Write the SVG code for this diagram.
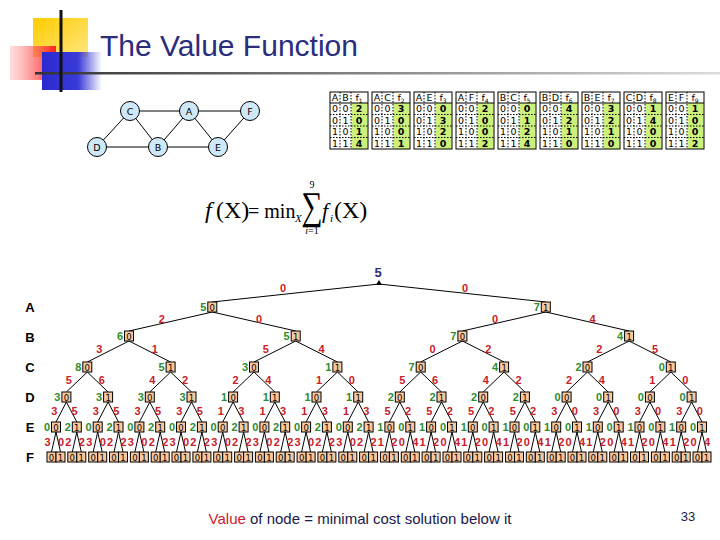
<svg xmlns="http://www.w3.org/2000/svg" xmlns:xlink="http://www.w3.org/1999/xlink" width="720" height="540" viewBox="0 0 720 540">
<style>
.t{font-family:"Liberation Sans",Arial,sans-serif}
.lv{font-family:"Liberation Sans",Arial,sans-serif;font-weight:bold;font-size:13px;text-anchor:middle;fill:#000}
.v{font-family:"Liberation Sans",Arial,sans-serif;font-weight:bold;font-size:11px;text-anchor:end;fill:#2e8b2e}
.el{font-family:"Liberation Sans",Arial,sans-serif;font-weight:bold;font-size:11px;text-anchor:middle;fill:#c8202a;stroke:none}
.gn circle{fill:#cfe8f7;stroke:#000;stroke-width:1}
.gn text{font-family:"DejaVu Sans",sans-serif;font-size:9.5px;text-anchor:middle}
.tb text{font-family:"DejaVu Sans",sans-serif;font-size:9.5px;text-anchor:middle}
.tb .g{font-weight:bold}
.fm{font-family:"Liberation Serif","Times New Roman",serif}
</style>
<defs>
<linearGradient id="gy" x1="0" y1="0" x2="1" y2="1"><stop offset="0" stop-color="#ffcc00"/><stop offset="1" stop-color="#ffe680"/></linearGradient>
<linearGradient id="gr" x1="0" y1="0" x2="1" y2="0"><stop offset="0" stop-color="#ff9090" stop-opacity="0.3"/><stop offset="1" stop-color="#ff2020"/></linearGradient>
<linearGradient id="gb" x1="0" y1="0" x2="1" y2="0"><stop offset="0" stop-color="#2a2ad0"/><stop offset="0.6" stop-color="#3a3ad8"/><stop offset="1" stop-color="#3a3ad8" stop-opacity="0"/></linearGradient>
<linearGradient id="gl" x1="0" y1="0" x2="1" y2="0"><stop offset="0" stop-color="#333"/><stop offset="1" stop-color="#ddd"/></linearGradient>
<g id="k0"><rect x="-4.5" y="-5" width="9" height="10" fill="#f9c89e" stroke="#000" stroke-width="1"/><text y="3.5" font-family="DejaVu Sans,sans-serif" font-size="8.5" text-anchor="middle">0</text></g>
<g id="k1"><rect x="-4.5" y="-5" width="9" height="10" fill="#f9c89e" stroke="#000" stroke-width="1"/><text y="3.5" font-family="DejaVu Sans,sans-serif" font-size="8.5" text-anchor="middle">1</text></g>
</defs>
<rect width="720" height="540" fill="#fff"/>
<!-- decoration -->
<rect x="33" y="18" width="55" height="39" fill="url(#gy)"/>
<rect x="10" y="46" width="46" height="34" fill="url(#gr)"/>
<rect x="42" y="52" width="60" height="38" fill="url(#gb)"/>
<rect x="35" y="72" width="685" height="2.5" fill="url(#gl)"/>
<rect x="59.5" y="10" width="3" height="82" fill="#111"/>
<text class="t" x="100" y="56" font-size="30" fill="#2b2d7c">The Value Function</text>
<!-- graph -->
<g class="gn">
<g fill="none" stroke="#000" stroke-width="1">
<line x1="130" y1="111" x2="189" y2="111"/><line x1="189" y1="111" x2="250" y2="111"/>
<line x1="97" y1="147" x2="158" y2="147"/><line x1="158" y1="147" x2="218" y2="147"/>
<line x1="130" y1="111" x2="97" y2="147"/><line x1="130" y1="111" x2="158" y2="147"/>
<line x1="189" y1="111" x2="158" y2="147"/><line x1="189" y1="111" x2="218" y2="147"/>
<line x1="250" y1="111" x2="218" y2="147"/>
</g>
<g id="gC"><circle cx="130" cy="111" r="9.5"/><text x="130" y="114.5">C</text></g>
<g id="gA"><circle cx="189" cy="111" r="9.5"/><text x="189" y="114.5">A</text></g>
<g id="gF"><circle cx="250" cy="111" r="9.5"/><text x="250" y="114.5">F</text></g>
<g id="gD"><circle cx="97" cy="147" r="9.5"/><text x="97" y="150.5">D</text></g>
<g id="gB"><circle cx="158" cy="147" r="9.5"/><text x="158" y="150.5">B</text></g>
<g id="gE"><circle cx="218" cy="147" r="9.5"/><text x="218" y="150.5">E</text></g>
</g>
<!-- tables -->
<g class="tb">
<g id="tab1" transform="translate(330,92)">
<rect x="21.5" y="11" width="16" height="46" fill="#ccf07c"/><rect width="38" height="57" fill="none" stroke="#000"/>
<path d="M0 11H38" stroke="#000"/><path d="M0 22.5H38M0 34H38M0 45.5H38M10 0V57M21 0V57" stroke="#000" stroke-dasharray="1.5,1.5"/>
<text x="5" y="9">A</text><text x="15.5" y="9">B</text><text x="29" y="9">f<tspan font-size="6" dy="2">1</tspan></text>
<text x="5" y="20">0</text><text x="15.5" y="20">0</text><text class="g" x="29" y="20">2</text>
<text x="5" y="31.5">0</text><text x="15.5" y="31.5">1</text><text class="g" x="29" y="31.5">0</text>
<text x="5" y="43">1</text><text x="15.5" y="43">0</text><text class="g" x="29" y="43">1</text>
<text x="5" y="54.5">1</text><text x="15.5" y="54.5">1</text><text class="g" x="29" y="54.5">4</text>
</g>
<g id="tab2" transform="translate(372,92)">
<rect x="21.5" y="11" width="16" height="46" fill="#ccf07c"/><rect width="38" height="57" fill="none" stroke="#000"/>
<path d="M0 11H38" stroke="#000"/><path d="M0 22.5H38M0 34H38M0 45.5H38M10 0V57M21 0V57" stroke="#000" stroke-dasharray="1.5,1.5"/>
<text x="5" y="9">A</text><text x="15.5" y="9">C</text><text x="29" y="9">f<tspan font-size="6" dy="2">2</tspan></text>
<text x="5" y="20">0</text><text x="15.5" y="20">0</text><text class="g" x="29" y="20">3</text>
<text x="5" y="31.5">0</text><text x="15.5" y="31.5">1</text><text class="g" x="29" y="31.5">0</text>
<text x="5" y="43">1</text><text x="15.5" y="43">0</text><text class="g" x="29" y="43">0</text>
<text x="5" y="54.5">1</text><text x="15.5" y="54.5">1</text><text class="g" x="29" y="54.5">1</text>
</g>
<g id="tab3" transform="translate(414,92)">
<rect x="21.5" y="11" width="16" height="46" fill="#ccf07c"/><rect width="38" height="57" fill="none" stroke="#000"/>
<path d="M0 11H38" stroke="#000"/><path d="M0 22.5H38M0 34H38M0 45.5H38M10 0V57M21 0V57" stroke="#000" stroke-dasharray="1.5,1.5"/>
<text x="5" y="9">A</text><text x="15.5" y="9">E</text><text x="29" y="9">f<tspan font-size="6" dy="2">3</tspan></text>
<text x="5" y="20">0</text><text x="15.5" y="20">0</text><text class="g" x="29" y="20">0</text>
<text x="5" y="31.5">0</text><text x="15.5" y="31.5">1</text><text class="g" x="29" y="31.5">3</text>
<text x="5" y="43">1</text><text x="15.5" y="43">0</text><text class="g" x="29" y="43">2</text>
<text x="5" y="54.5">1</text><text x="15.5" y="54.5">1</text><text class="g" x="29" y="54.5">0</text>
</g>
<g id="tab4" transform="translate(456,92)">
<rect x="21.5" y="11" width="16" height="46" fill="#ccf07c"/><rect width="38" height="57" fill="none" stroke="#000"/>
<path d="M0 11H38" stroke="#000"/><path d="M0 22.5H38M0 34H38M0 45.5H38M10 0V57M21 0V57" stroke="#000" stroke-dasharray="1.5,1.5"/>
<text x="5" y="9">A</text><text x="15.5" y="9">F</text><text x="29" y="9">f<tspan font-size="6" dy="2">4</tspan></text>
<text x="5" y="20">0</text><text x="15.5" y="20">0</text><text class="g" x="29" y="20">2</text>
<text x="5" y="31.5">0</text><text x="15.5" y="31.5">1</text><text class="g" x="29" y="31.5">0</text>
<text x="5" y="43">1</text><text x="15.5" y="43">0</text><text class="g" x="29" y="43">0</text>
<text x="5" y="54.5">1</text><text x="15.5" y="54.5">1</text><text class="g" x="29" y="54.5">2</text>
</g>
<g id="tab5" transform="translate(498,92)">
<rect x="21.5" y="11" width="16" height="46" fill="#ccf07c"/><rect width="38" height="57" fill="none" stroke="#000"/>
<path d="M0 11H38" stroke="#000"/><path d="M0 22.5H38M0 34H38M0 45.5H38M10 0V57M21 0V57" stroke="#000" stroke-dasharray="1.5,1.5"/>
<text x="5" y="9">B</text><text x="15.5" y="9">C</text><text x="29" y="9">f<tspan font-size="6" dy="2">5</tspan></text>
<text x="5" y="20">0</text><text x="15.5" y="20">0</text><text class="g" x="29" y="20">0</text>
<text x="5" y="31.5">0</text><text x="15.5" y="31.5">1</text><text class="g" x="29" y="31.5">1</text>
<text x="5" y="43">1</text><text x="15.5" y="43">0</text><text class="g" x="29" y="43">2</text>
<text x="5" y="54.5">1</text><text x="15.5" y="54.5">1</text><text class="g" x="29" y="54.5">4</text>
</g>
<g id="tab6" transform="translate(540,92)">
<rect x="21.5" y="11" width="16" height="46" fill="#ccf07c"/><rect width="38" height="57" fill="none" stroke="#000"/>
<path d="M0 11H38" stroke="#000"/><path d="M0 22.5H38M0 34H38M0 45.5H38M10 0V57M21 0V57" stroke="#000" stroke-dasharray="1.5,1.5"/>
<text x="5" y="9">B</text><text x="15.5" y="9">D</text><text x="29" y="9">f<tspan font-size="6" dy="2">6</tspan></text>
<text x="5" y="20">0</text><text x="15.5" y="20">0</text><text class="g" x="29" y="20">4</text>
<text x="5" y="31.5">0</text><text x="15.5" y="31.5">1</text><text class="g" x="29" y="31.5">2</text>
<text x="5" y="43">1</text><text x="15.5" y="43">0</text><text class="g" x="29" y="43">1</text>
<text x="5" y="54.5">1</text><text x="15.5" y="54.5">1</text><text class="g" x="29" y="54.5">0</text>
</g>
<g id="tab7" transform="translate(582,92)">
<rect x="21.5" y="11" width="16" height="46" fill="#ccf07c"/><rect width="38" height="57" fill="none" stroke="#000"/>
<path d="M0 11H38" stroke="#000"/><path d="M0 22.5H38M0 34H38M0 45.5H38M10 0V57M21 0V57" stroke="#000" stroke-dasharray="1.5,1.5"/>
<text x="5" y="9">B</text><text x="15.5" y="9">E</text><text x="29" y="9">f<tspan font-size="6" dy="2">7</tspan></text>
<text x="5" y="20">0</text><text x="15.5" y="20">0</text><text class="g" x="29" y="20">3</text>
<text x="5" y="31.5">0</text><text x="15.5" y="31.5">1</text><text class="g" x="29" y="31.5">2</text>
<text x="5" y="43">1</text><text x="15.5" y="43">0</text><text class="g" x="29" y="43">1</text>
<text x="5" y="54.5">1</text><text x="15.5" y="54.5">1</text><text class="g" x="29" y="54.5">0</text>
</g>
<g id="tab8" transform="translate(624,92)">
<rect x="21.5" y="11" width="16" height="46" fill="#ccf07c"/><rect width="38" height="57" fill="none" stroke="#000"/>
<path d="M0 11H38" stroke="#000"/><path d="M0 22.5H38M0 34H38M0 45.5H38M10 0V57M21 0V57" stroke="#000" stroke-dasharray="1.5,1.5"/>
<text x="5" y="9">C</text><text x="15.5" y="9">D</text><text x="29" y="9">f<tspan font-size="6" dy="2">8</tspan></text>
<text x="5" y="20">0</text><text x="15.5" y="20">0</text><text class="g" x="29" y="20">1</text>
<text x="5" y="31.5">0</text><text x="15.5" y="31.5">1</text><text class="g" x="29" y="31.5">4</text>
<text x="5" y="43">1</text><text x="15.5" y="43">0</text><text class="g" x="29" y="43">0</text>
<text x="5" y="54.5">1</text><text x="15.5" y="54.5">1</text><text class="g" x="29" y="54.5">0</text>
</g>
<g id="tab9" transform="translate(666,92)">
<rect x="21.5" y="11" width="16" height="46" fill="#ccf07c"/><rect width="38" height="57" fill="none" stroke="#000"/>
<path d="M0 11H38" stroke="#000"/><path d="M0 22.5H38M0 34H38M0 45.5H38M10 0V57M21 0V57" stroke="#000" stroke-dasharray="1.5,1.5"/>
<text x="5" y="9">E</text><text x="15.5" y="9">F</text><text x="29" y="9">f<tspan font-size="6" dy="2">9</tspan></text>
<text x="5" y="20">0</text><text x="15.5" y="20">0</text><text class="g" x="29" y="20">1</text>
<text x="5" y="31.5">0</text><text x="15.5" y="31.5">1</text><text class="g" x="29" y="31.5">0</text>
<text x="5" y="43">1</text><text x="15.5" y="43">0</text><text class="g" x="29" y="43">0</text>
<text x="5" y="54.5">1</text><text x="15.5" y="54.5">1</text><text class="g" x="29" y="54.5">2</text>
</g>
</g>
<!-- formula -->
<g class="fm" fill="#000">
<text x="205" y="218" font-size="24" font-style="italic">f</text>
<text x="216" y="218" font-size="24">(X)</text>
<text x="248" y="218" font-size="20">= min</text>
<text x="295" y="222" font-size="11" font-style="italic">X</text>
<text transform="translate(312,219) scale(1.15,1.5)" font-size="26" text-anchor="middle">∑</text>
<text x="312" y="188" font-size="10" text-anchor="middle">9</text>
<text x="312" y="234" font-size="10" text-anchor="middle"><tspan font-style="italic">i</tspan>=1</text>
<text x="322" y="218" font-size="22" font-style="italic">f</text>
<text x="330" y="222" font-size="11" font-style="italic">i</text>
<text x="334" y="218" font-size="24">(X)</text>
</g>
<!-- level labels -->
<text class="lv" x="30" y="312">A</text>
<text class="lv" x="30" y="342">B</text>
<text class="lv" x="30" y="372">C</text>
<text class="lv" x="30" y="402">D</text>
<text class="lv" x="30" y="432">E</text>
<text class="lv" x="30" y="462">F</text>
<!-- connectors -->
<g id="connectors" fill="none" stroke="#000" stroke-width="1">
<path d="M379 284L212.3 302M379 284L545.8 302"/>
<path d="M212.3 312L129 331M212.3 312L295.7 331M545.8 312L462.4 331M545.8 312L629.1 331"/>
<path d="M129 341L87.3 362M129 341L170.6 362M295.7 341L254 362M295.7 341L337.4 362M462.4 341L420.7 362M462.4 341L504.1 362M629.1 341L587.5 362M629.1 341L670.8 362"/>
<path d="M87.3 372L66.4 392M87.3 372L108.1 392M170.6 372L149.8 392M170.6 372L191.5 392M254 372L233.1 392M254 372L274.8 392M337.4 372L316.5 392M337.4 372L358.2 392M420.7 372L399.8 392M420.7 372L441.5 392M504.1 372L483.2 392M504.1 372L524.9 392M587.5 372L566.6 392M587.5 372L608.2 392M670.8 372L649.9 392M670.8 372L691.6 392"/>
<path d="M66.4 402L56 422M66.4 402L76.8 422M108.1 402L97.7 422M108.1 402L118.5 422M149.8 402L139.4 422M149.8 402L160.2 422M191.5 402L181 422M191.5 402L201.9 422M233.1 402L222.7 422M233.1 402L243.6 422M274.8 402L264.4 422M274.8 402L285.2 422M316.5 402L306.1 422M316.5 402L326.9 422M358.2 402L347.8 422M358.2 402L368.6 422M399.8 402L389.4 422M399.8 402L410.3 422M441.5 402L431.1 422M441.5 402L452 422M483.2 402L472.8 422M483.2 402L493.6 422M524.9 402L514.5 422M524.9 402L535.3 422M566.6 402L556.2 422M566.6 402L577 422M608.2 402L597.8 422M608.2 402L618.7 422M649.9 402L639.5 422M649.9 402L660.4 422M691.6 402L681.2 422M691.6 402L702 422"/>
<path d="M56 432L51.5 452M56 432L60.5 452M76.8 432L72.3 452M76.8 432L81.3 452M97.7 432L93.2 452M97.7 432L102.2 452M118.5 432L114 452M118.5 432L123 452M139.4 432L134.9 452M139.4 432L143.9 452M160.2 432L155.7 452M160.2 432L164.7 452M181 432L176.5 452M181 432L185.5 452M201.9 432L197.4 452M201.9 432L206.4 452M222.7 432L218.2 452M222.7 432L227.2 452M243.6 432L239.1 452M243.6 432L248.1 452M264.4 432L259.9 452M264.4 432L268.9 452M285.2 432L280.7 452M285.2 432L289.7 452M306.1 432L301.6 452M306.1 432L310.6 452M326.9 432L322.4 452M326.9 432L331.4 452M347.8 432L343.3 452M347.8 432L352.3 452M368.6 432L364.1 452M368.6 432L373.1 452M389.4 432L384.9 452M389.4 432L393.9 452M410.3 432L405.8 452M410.3 432L414.8 452M431.1 432L426.6 452M431.1 432L435.6 452M452 432L447.5 452M452 432L456.5 452M472.8 432L468.3 452M472.8 432L477.3 452M493.6 432L489.1 452M493.6 432L498.1 452M514.5 432L510 452M514.5 432L519 452M535.3 432L530.8 452M535.3 432L539.8 452M556.2 432L551.7 452M556.2 432L560.7 452M577 432L572.5 452M577 432L581.5 452M597.8 432L593.3 452M597.8 432L602.3 452M618.7 432L614.2 452M618.7 432L623.2 452M639.5 432L635 452M639.5 432L644 452M660.4 432L655.9 452M660.4 432L664.9 452M681.2 432L676.7 452M681.2 432L685.7 452M702 432L697.5 452M702 432L706.5 452"/>
</g>
<g id="edge-labels">
<text class="el" x="283 465" y="292">00</text>
<text class="el" x="161.7 259 495.1 592.5" y="323">2004</text>
<text class="el" x="99.2 154.8 265.9 321.6 432.6 488.3 599.3 655" y="353">31540225</text>
<text class="el" x="68.9 101.7 152.2 185 235.6 268.4 319 351.8 402.3 435.1 485.7 518.5 569 601.9 652.4 685.2" y="384">5642241056422410</text>
<text class="el" x="54.2 74.6 95.9 116.3 137.6 158 179.3 199.7 220.9 241.3 262.6 283 304.3 324.7 346 366.4 387.6 408 429.3 449.7 471 491.4 512.7 533.1 554.4 574.8 596 616.4 637.7 658.1 679.4 699.8" y="415">35353535131313135252525230303030</text>
<text class="el" x="47.5 61 68.3 81.8 89.2 102.7 110 123.5 130.9 144.4 151.7 165.2 172.5 186 193.4 206.9 214.2 227.7 235.1 248.6 255.9 269.4 276.7 290.2 297.6 311.1 318.4 331.9 339.3 352.8 360.1 373.6 380.9 394.4 401.8 415.3 422.6 436.1 443.5 457 464.3 477.8 485.1 498.6 506 519.5 526.8 540.3 547.7 561.2 568.5 582 589.3 602.8 610.2 623.7 631 644.5 651.9 665.4 672.7 686.2 693.5 707" y="446">3022302230223022302230223022302212041204120412041204120412041204</text>
</g>
<!-- nodes -->
<g id="root"><path d="M379 280L382 285H376Z" fill="#000"/><text x="378" y="277" font-family="Liberation Sans,Arial,sans-serif" font-weight="bold" font-size="13" text-anchor="middle" fill="#2b2d7c">5</text></g>
<g id="A0"><use xlink:href="#k0" x="212.3" y="307"/><text class="v" x="206.3" y="311">5</text></g>
<g id="A1"><use xlink:href="#k1" x="545.8" y="307"/><text class="v" x="539.8" y="311">7</text></g>
<g id="B0"><use xlink:href="#k0" x="129" y="336"/><text class="v" x="123" y="340">6</text></g>
<g id="B1"><use xlink:href="#k1" x="295.7" y="336"/><text class="v" x="289.7" y="340">5</text></g>
<g id="B2"><use xlink:href="#k0" x="462.4" y="336"/><text class="v" x="456.4" y="340">7</text></g>
<g id="B3"><use xlink:href="#k1" x="629.1" y="336"/><text class="v" x="623.1" y="340">4</text></g>
<g id="C0"><use xlink:href="#k0" x="87.3" y="367"/><text class="v" x="81.3" y="371">8</text></g>
<g id="C1"><use xlink:href="#k1" x="170.6" y="367"/><text class="v" x="164.6" y="371">5</text></g>
<g id="C2"><use xlink:href="#k0" x="254" y="367"/><text class="v" x="248" y="371">3</text></g>
<g id="C3"><use xlink:href="#k1" x="337.4" y="367"/><text class="v" x="331.4" y="371">1</text></g>
<g id="C4"><use xlink:href="#k0" x="420.7" y="367"/><text class="v" x="414.7" y="371">7</text></g>
<g id="C5"><use xlink:href="#k1" x="504.1" y="367"/><text class="v" x="498.1" y="371">4</text></g>
<g id="C6"><use xlink:href="#k0" x="587.5" y="367"/><text class="v" x="581.5" y="371">2</text></g>
<g id="C7"><use xlink:href="#k1" x="670.8" y="367"/><text class="v" x="664.8" y="371">0</text></g>
<g id="D0"><use xlink:href="#k0" x="66.4" y="397"/><text class="v" x="60.4" y="401">3</text></g>
<g id="D1"><use xlink:href="#k1" x="108.1" y="397"/><text class="v" x="102.1" y="401">3</text></g>
<g id="D2"><use xlink:href="#k0" x="149.8" y="397"/><text class="v" x="143.8" y="401">3</text></g>
<g id="D3"><use xlink:href="#k1" x="191.5" y="397"/><text class="v" x="185.5" y="401">3</text></g>
<g id="D4"><use xlink:href="#k0" x="233.1" y="397"/><text class="v" x="227.1" y="401">1</text></g>
<g id="D5"><use xlink:href="#k1" x="274.8" y="397"/><text class="v" x="268.8" y="401">1</text></g>
<g id="D6"><use xlink:href="#k0" x="316.5" y="397"/><text class="v" x="310.5" y="401">1</text></g>
<g id="D7"><use xlink:href="#k1" x="358.2" y="397"/><text class="v" x="352.2" y="401">1</text></g>
<g id="D8"><use xlink:href="#k0" x="399.8" y="397"/><text class="v" x="393.8" y="401">2</text></g>
<g id="D9"><use xlink:href="#k1" x="441.5" y="397"/><text class="v" x="435.5" y="401">2</text></g>
<g id="D10"><use xlink:href="#k0" x="483.2" y="397"/><text class="v" x="477.2" y="401">2</text></g>
<g id="D11"><use xlink:href="#k1" x="524.9" y="397"/><text class="v" x="518.9" y="401">2</text></g>
<g id="D12"><use xlink:href="#k0" x="566.6" y="397"/><text class="v" x="560.6" y="401">0</text></g>
<g id="D13"><use xlink:href="#k1" x="608.2" y="397"/><text class="v" x="602.2" y="401">0</text></g>
<g id="D14"><use xlink:href="#k0" x="649.9" y="397"/><text class="v" x="643.9" y="401">0</text></g>
<g id="D15"><use xlink:href="#k1" x="691.6" y="397"/><text class="v" x="685.6" y="401">0</text></g>
<g id="E0"><use xlink:href="#k0" x="56" y="427"/><text class="v" x="50" y="431">0</text></g>
<g id="E1"><use xlink:href="#k1" x="76.8" y="427"/><text class="v" x="70.8" y="431">2</text></g>
<g id="E2"><use xlink:href="#k0" x="97.7" y="427"/><text class="v" x="91.7" y="431">0</text></g>
<g id="E3"><use xlink:href="#k1" x="118.5" y="427"/><text class="v" x="112.5" y="431">2</text></g>
<g id="E4"><use xlink:href="#k0" x="139.4" y="427"/><text class="v" x="133.4" y="431">0</text></g>
<g id="E5"><use xlink:href="#k1" x="160.2" y="427"/><text class="v" x="154.2" y="431">2</text></g>
<g id="E6"><use xlink:href="#k0" x="181" y="427"/><text class="v" x="175" y="431">0</text></g>
<g id="E7"><use xlink:href="#k1" x="201.9" y="427"/><text class="v" x="195.9" y="431">2</text></g>
<g id="E8"><use xlink:href="#k0" x="222.7" y="427"/><text class="v" x="216.7" y="431">0</text></g>
<g id="E9"><use xlink:href="#k1" x="243.6" y="427"/><text class="v" x="237.6" y="431">2</text></g>
<g id="E10"><use xlink:href="#k0" x="264.4" y="427"/><text class="v" x="258.4" y="431">0</text></g>
<g id="E11"><use xlink:href="#k1" x="285.2" y="427"/><text class="v" x="279.2" y="431">2</text></g>
<g id="E12"><use xlink:href="#k0" x="306.1" y="427"/><text class="v" x="300.1" y="431">0</text></g>
<g id="E13"><use xlink:href="#k1" x="326.9" y="427"/><text class="v" x="320.9" y="431">2</text></g>
<g id="E14"><use xlink:href="#k0" x="347.8" y="427"/><text class="v" x="341.8" y="431">0</text></g>
<g id="E15"><use xlink:href="#k1" x="368.6" y="427"/><text class="v" x="362.6" y="431">2</text></g>
<g id="E16"><use xlink:href="#k0" x="389.4" y="427"/><text class="v" x="383.4" y="431">1</text></g>
<g id="E17"><use xlink:href="#k1" x="410.3" y="427"/><text class="v" x="404.3" y="431">0</text></g>
<g id="E18"><use xlink:href="#k0" x="431.1" y="427"/><text class="v" x="425.1" y="431">1</text></g>
<g id="E19"><use xlink:href="#k1" x="452" y="427"/><text class="v" x="446" y="431">0</text></g>
<g id="E20"><use xlink:href="#k0" x="472.8" y="427"/><text class="v" x="466.8" y="431">1</text></g>
<g id="E21"><use xlink:href="#k1" x="493.6" y="427"/><text class="v" x="487.6" y="431">0</text></g>
<g id="E22"><use xlink:href="#k0" x="514.5" y="427"/><text class="v" x="508.5" y="431">1</text></g>
<g id="E23"><use xlink:href="#k1" x="535.3" y="427"/><text class="v" x="529.3" y="431">0</text></g>
<g id="E24"><use xlink:href="#k0" x="556.2" y="427"/><text class="v" x="550.2" y="431">1</text></g>
<g id="E25"><use xlink:href="#k1" x="577" y="427"/><text class="v" x="571" y="431">0</text></g>
<g id="E26"><use xlink:href="#k0" x="597.8" y="427"/><text class="v" x="591.8" y="431">1</text></g>
<g id="E27"><use xlink:href="#k1" x="618.7" y="427"/><text class="v" x="612.7" y="431">0</text></g>
<g id="E28"><use xlink:href="#k0" x="639.5" y="427"/><text class="v" x="633.5" y="431">1</text></g>
<g id="E29"><use xlink:href="#k1" x="660.4" y="427"/><text class="v" x="654.4" y="431">0</text></g>
<g id="E30"><use xlink:href="#k0" x="681.2" y="427"/><text class="v" x="675.2" y="431">1</text></g>
<g id="E31"><use xlink:href="#k1" x="702" y="427"/><text class="v" x="696" y="431">0</text></g>
<g id="F-leaves">
<g id="F0"><use xlink:href="#k0" x="51.5" y="457"/></g><g id="F1"><use xlink:href="#k1" x="60.5" y="457"/></g>
<g id="F2"><use xlink:href="#k0" x="72.3" y="457"/></g><g id="F3"><use xlink:href="#k1" x="81.3" y="457"/></g>
<g id="F4"><use xlink:href="#k0" x="93.2" y="457"/></g><g id="F5"><use xlink:href="#k1" x="102.2" y="457"/></g>
<g id="F6"><use xlink:href="#k0" x="114" y="457"/></g><g id="F7"><use xlink:href="#k1" x="123" y="457"/></g>
<g id="F8"><use xlink:href="#k0" x="134.9" y="457"/></g><g id="F9"><use xlink:href="#k1" x="143.9" y="457"/></g>
<g id="F10"><use xlink:href="#k0" x="155.7" y="457"/></g><g id="F11"><use xlink:href="#k1" x="164.7" y="457"/></g>
<g id="F12"><use xlink:href="#k0" x="176.5" y="457"/></g><g id="F13"><use xlink:href="#k1" x="185.5" y="457"/></g>
<g id="F14"><use xlink:href="#k0" x="197.4" y="457"/></g><g id="F15"><use xlink:href="#k1" x="206.4" y="457"/></g>
<g id="F16"><use xlink:href="#k0" x="218.2" y="457"/></g><g id="F17"><use xlink:href="#k1" x="227.2" y="457"/></g>
<g id="F18"><use xlink:href="#k0" x="239.1" y="457"/></g><g id="F19"><use xlink:href="#k1" x="248.1" y="457"/></g>
<g id="F20"><use xlink:href="#k0" x="259.9" y="457"/></g><g id="F21"><use xlink:href="#k1" x="268.9" y="457"/></g>
<g id="F22"><use xlink:href="#k0" x="280.7" y="457"/></g><g id="F23"><use xlink:href="#k1" x="289.7" y="457"/></g>
<g id="F24"><use xlink:href="#k0" x="301.6" y="457"/></g><g id="F25"><use xlink:href="#k1" x="310.6" y="457"/></g>
<g id="F26"><use xlink:href="#k0" x="322.4" y="457"/></g><g id="F27"><use xlink:href="#k1" x="331.4" y="457"/></g>
<g id="F28"><use xlink:href="#k0" x="343.3" y="457"/></g><g id="F29"><use xlink:href="#k1" x="352.3" y="457"/></g>
<g id="F30"><use xlink:href="#k0" x="364.1" y="457"/></g><g id="F31"><use xlink:href="#k1" x="373.1" y="457"/></g>
<g id="F32"><use xlink:href="#k0" x="384.9" y="457"/></g><g id="F33"><use xlink:href="#k1" x="393.9" y="457"/></g>
<g id="F34"><use xlink:href="#k0" x="405.8" y="457"/></g><g id="F35"><use xlink:href="#k1" x="414.8" y="457"/></g>
<g id="F36"><use xlink:href="#k0" x="426.6" y="457"/></g><g id="F37"><use xlink:href="#k1" x="435.6" y="457"/></g>
<g id="F38"><use xlink:href="#k0" x="447.5" y="457"/></g><g id="F39"><use xlink:href="#k1" x="456.5" y="457"/></g>
<g id="F40"><use xlink:href="#k0" x="468.3" y="457"/></g><g id="F41"><use xlink:href="#k1" x="477.3" y="457"/></g>
<g id="F42"><use xlink:href="#k0" x="489.1" y="457"/></g><g id="F43"><use xlink:href="#k1" x="498.1" y="457"/></g>
<g id="F44"><use xlink:href="#k0" x="510" y="457"/></g><g id="F45"><use xlink:href="#k1" x="519" y="457"/></g>
<g id="F46"><use xlink:href="#k0" x="530.8" y="457"/></g><g id="F47"><use xlink:href="#k1" x="539.8" y="457"/></g>
<g id="F48"><use xlink:href="#k0" x="551.7" y="457"/></g><g id="F49"><use xlink:href="#k1" x="560.7" y="457"/></g>
<g id="F50"><use xlink:href="#k0" x="572.5" y="457"/></g><g id="F51"><use xlink:href="#k1" x="581.5" y="457"/></g>
<g id="F52"><use xlink:href="#k0" x="593.3" y="457"/></g><g id="F53"><use xlink:href="#k1" x="602.3" y="457"/></g>
<g id="F54"><use xlink:href="#k0" x="614.2" y="457"/></g><g id="F55"><use xlink:href="#k1" x="623.2" y="457"/></g>
<g id="F56"><use xlink:href="#k0" x="635" y="457"/></g><g id="F57"><use xlink:href="#k1" x="644" y="457"/></g>
<g id="F58"><use xlink:href="#k0" x="655.9" y="457"/></g><g id="F59"><use xlink:href="#k1" x="664.9" y="457"/></g>
<g id="F60"><use xlink:href="#k0" x="676.7" y="457"/></g><g id="F61"><use xlink:href="#k1" x="685.7" y="457"/></g>
<g id="F62"><use xlink:href="#k0" x="697.5" y="457"/></g><g id="F63"><use xlink:href="#k1" x="706.5" y="457"/></g>
</g>
<!-- footer -->
<text class="t" x="360" y="524" font-size="15" text-anchor="middle" fill="#1a1a4a"><tspan fill="#c8202a">Value</tspan> of node = minimal cost solution below it</text>
<text class="t" x="688" y="521" font-size="13" text-anchor="middle" fill="#1a1a4a">33</text>
</svg>
